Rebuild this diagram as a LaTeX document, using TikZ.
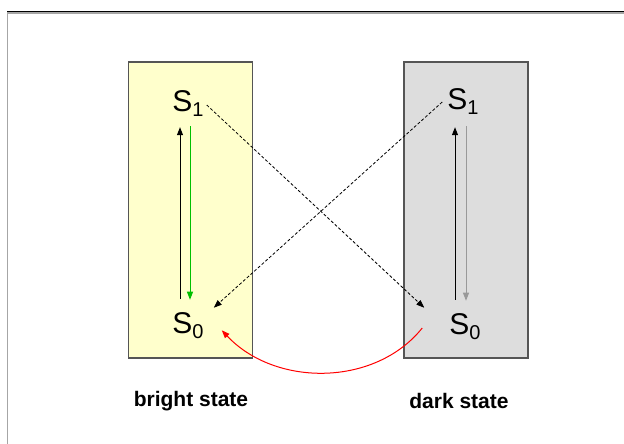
\documentclass[tikz,border=0pt]{standalone}
\usepackage{fontspec}
\setmainfont{Liberation Sans}
\usetikzlibrary{arrows.meta,positioning}
\definecolor{brightfill}{HTML}{FFFFCC}
\definecolor{darkfill}{HTML}{DDDDDD}
\definecolor{boxline}{HTML}{555555}
\newcommand{\lvl}[1]{S{\fontsize{20}{20}\selectfont\raisebox{-5pt}{#1}}}

\begin{document}
\begin{tikzpicture}[x=1pt,y=-1pt,>={Triangle[length=8pt,width=6pt]},
  statebox/.style={draw=boxline,line width=1.5pt,minimum width=124pt,minimum height=296pt,inner sep=0pt},
  lvlnode/.style={inner sep=0pt,font=\fontsize{30}{30}\selectfont},
  caption/.style={inner sep=0pt,font=\fontsize{21}{21}\selectfont\bfseries},
  cross/.style={->,dashed,dash pattern=on 3pt off 2pt,line width=0.8pt}]
\useasboundingbox (0,0) rectangle (624,444);
% frame
\draw[black,line width=1pt] (7,11.5) -- (624,11.5);
\draw[gray!70,line width=1.5pt] (7.5,13) -- (624,13);
\draw[gray!70,line width=1.5pt] (7.5,12) -- (7.5,444);
% the two boxes
\node[statebox,fill=brightfill] (bright) at (190.5,210) {};
\node[statebox,fill=darkfill] (dark) at (466,210) {};
% levels
\node[lvlnode] (s1b) at (188,104) {\lvl{1}};
\node[lvlnode] (s0b) at (188,326) {\lvl{0}};
\node[lvlnode] (s1d) at (463,102) {\lvl{1}};
\node[lvlnode] (s0d) at (465,327) {\lvl{0}};
% vertical transitions
\draw[->,line width=1pt] ([xshift=-8pt,yshift=14pt]s0b.north) -- ([xshift=-8pt,yshift=-10pt]s1b.south);
\draw[->,line width=1pt,green!75!black] ([xshift=2pt,yshift=-9pt]s1b.south) -- ([xshift=2pt,yshift=13pt]s0b.north);
\draw[->,line width=1pt] ([xshift=-10pt,yshift=14pt]s0d.north) -- ([xshift=-8pt,yshift=-12pt]s1d.south);
\draw[->,line width=1pt,gray!80] ([xshift=3pt,yshift=-11pt]s1d.south) -- ([xshift=1pt,yshift=13pt]s0d.north);
% crossing
\draw[cross] ([xshift=3pt,yshift=-1pt]s1b.east) -- ([xshift=-25pt,yshift=6pt]s0d.north west);
\draw[cross] ([xshift=-5pt]s1d.west) -- ([xshift=10pt,yshift=5pt]s0b.north east);
% return
\draw[->,red,line width=1pt] ([xshift=-27pt,yshift=-1pt]s0d.west) .. controls (375,387) and (275,387) .. ([xshift=18pt,yshift=9pt]s0b.south east);
% captions
\node[caption] (brightlbl) at (191,401) {bright state};
\node[caption] (darklbl) at (459,401) {dark state};
\end{tikzpicture}
\end{document}
